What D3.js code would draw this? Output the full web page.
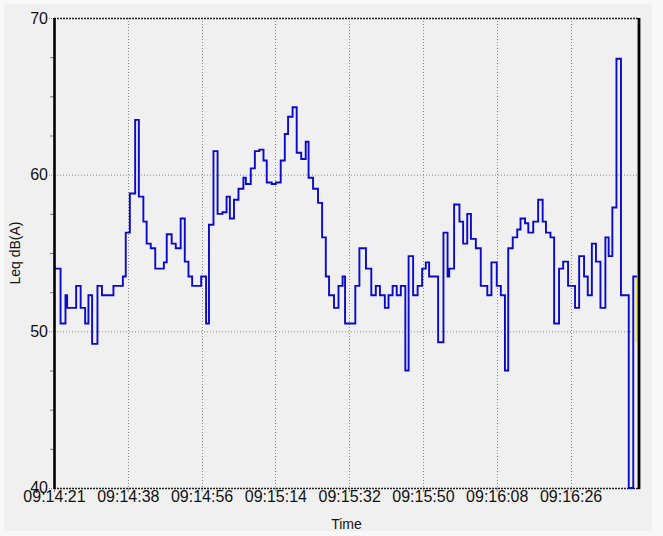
<!DOCTYPE html>
<html>
<head>
<meta charset="utf-8">
<script src="https://cdn.jsdelivr.net/npm/d3@7"></script>
<style>
  html, body { margin: 0; padding: 0; background: #f8f8f8; }
  svg { display: block; font-family: "Liberation Sans", Arial, sans-serif; }
</style>
</head>
<body>
<svg id="chart" width="663" height="536"></svg>
<script>
// Seconds after 09:14:21 at which each step begins
const times = [0, 1.6, 2.8, 3.2, 5.4, 6.5, 7.6, 8.4, 9.3, 10.6, 11.7, 14.5, 16.8, 17.5, 18.5, 19.8, 20.7, 21.8, 22.6, 23.6,
  24.7, 26.8, 27.5, 28.7, 29.7, 30.9, 31.9, 32.8, 33.7, 35.9, 37.1, 37.8, 38.9, 39.9, 41.1, 42.1, 42.9, 43.9, 45.0, 46.2,
  46.8, 48.0, 49.0, 50.1, 51.1, 51.9, 53.1, 54.1, 55.3, 56.3, 57.1, 58.2, 59.2, 60.3, 61.4, 62.1, 63.2, 64.4, 65.4, 66.3,
  67.1, 68.3, 69.4, 70.4, 71.0, 73.5, 74.5, 76.1, 77.4, 78.5, 79.5, 80.7, 81.6, 82.6, 83.6, 84.6, 85.7, 86.5, 87.6, 88.7,
  89.8, 90.7, 91.5, 93.7, 95.0, 96.0, 96.4, 97.6, 98.9, 99.8, 100.8, 101.7, 102.9, 104.1, 105.7, 106.7, 108.0, 109.0, 110.0, 110.8,
  111.9, 113.0, 113.8, 114.9, 115.7, 116.9, 118.1, 119.2, 120.0, 121.1, 122.0, 123.2, 124.2, 125.4, 127.1, 128.1, 129.3, 130.2, 131.2, 132.2,
  133.3, 134.5, 135.3, 136.2, 137.2, 138.3, 140.2, 141.3];
// Leq dB(A) value of each step
const values = [54.0, 50.5, 52.3, 51.5, 52.9, 51.5, 50.5, 52.3, 49.2, 52.9, 52.3, 52.9, 53.5, 56.3, 58.8, 63.5, 58.6, 57.0, 55.6, 55.3,
  54.0, 54.4, 56.2, 55.6, 55.3, 57.2, 54.45, 53.5, 52.9, 53.5, 50.5, 56.8, 61.5, 57.5, 57.6, 58.6, 57.2, 58.4, 59.1, 59.8,
  59.4, 60.4, 61.5, 61.6, 60.9, 59.5, 59.4, 59.5, 60.9, 62.6, 63.7, 64.3, 61.4, 61.0, 62.1, 59.8, 59.1, 58.2, 56.0, 53.5,
  52.3, 51.5, 52.9, 53.5, 50.5, 52.9, 55.3, 54.0, 52.3, 52.9, 52.3, 51.5, 52.3, 52.9, 52.3, 52.9, 47.5, 54.8, 52.3, 52.9,
  54.0, 54.4, 53.5, 49.3, 56.3, 53.5, 54.0, 58.1, 57.0, 55.6, 57.5, 55.9, 55.3, 52.9, 52.3, 54.4, 52.9, 52.3, 47.5, 55.3,
  56.0, 56.5, 57.2, 56.9, 56.3, 57.0, 58.4, 57.0, 56.3, 56.0, 50.5, 54.0, 54.45, 52.9, 51.5, 54.8, 53.5, 52.3, 55.6, 54.45,
  51.5, 56.0, 54.8, 57.9, 67.4, 52.3, 40.0, 53.5];
const endTime = 142.2;

const tickSeconds = [0, 18, 36, 54, 72, 90, 108, 126];
const tickLabels = ["09:14:21", "09:14:38", "09:14:56", "09:15:14", "09:15:32", "09:15:50", "09:16:08", "09:16:26"];
const yTicks = [40, 50, 60, 70];
const yMinorTicks = [42.5, 45, 47.5, 52.5, 55, 57.5, 62.5, 65, 67.5];
// highlighted (yellow) last-sample marker
const markerTimes = [141.8, 142.4];
const markerValues = [49.3, 53.5];

const svg = d3.select("#chart");
const L = 54, R = 639, T = 18, B = 488;

svg.append("rect").attr("x", 4).attr("y", 4).attr("width", 648).attr("height", 527).attr("fill", "#f0f0f0");

const x = d3.scaleLinear().domain([0, 142.7]).range([L, R]);
const y = d3.scaleLinear().domain([40, 70]).range([B, T]);

// gridlines
const grid = svg.append("g");
grid.selectAll("line.h").data([50, 60]).join("line")
  .attr("x1", L).attr("x2", R).attr("y1", d => y(d) + 0.5).attr("y2", d => y(d) + 0.5)
  .attr("stroke", "#8a8a8a").attr("stroke-width", 1).attr("stroke-dasharray", "1,2");
grid.selectAll("line.v").data(tickSeconds.slice(1)).join("line")
  .attr("x1", d => Math.round(x(d)) + 0.5).attr("x2", d => Math.round(x(d)) + 0.5).attr("y1", T).attr("y2", B)
  .attr("stroke", "#8a8a8a").attr("stroke-width", 1).attr("stroke-dasharray", "1,2");

// Y axis
const yAxis = svg.append("g").attr("transform", `translate(${L},0)`)
  .call(d3.axisLeft(y).tickValues(yTicks).tickSize(6).tickPadding(0).tickFormat(d3.format("d")));
yAxis.select(".domain").remove();
yAxis.selectAll(".tick line").attr("stroke", "#888").attr("stroke-dasharray", "1,1");
yAxis.selectAll(".tick text").attr("font-size", 16).attr("fill", "#111")
  .attr("font-family", "Liberation Sans, Arial, sans-serif");
yAxis.selectAll(".tick text").filter(d => d === 40).attr("dy", "0.26em");

const yMinor = svg.append("g").attr("transform", `translate(${L},0)`)
  .call(d3.axisLeft(y).tickValues(yMinorTicks).tickSize(4).tickFormat(""));
yMinor.select(".domain").remove();
yMinor.selectAll(".tick line").attr("stroke", "#777");

// X axis
const xAxis = svg.append("g").attr("transform", `translate(0,${B})`)
  .call(d3.axisBottom(x).tickValues(tickSeconds).tickSize(4).tickPadding(-1.5)
    .tickFormat((d, i) => tickLabels[i]));
xAxis.select(".domain").remove();
xAxis.selectAll(".tick line").attr("stroke", "#888");
xAxis.selectAll(".tick text").attr("font-size", 16).attr("fill", "#111")
  .attr("font-family", "Liberation Sans, Arial, sans-serif");

// frame: top and bottom dotted dark, left/right solid thick
svg.append("line").attr("x1", L).attr("x2", R).attr("y1", T + 0.5).attr("y2", T + 0.5)
  .attr("stroke", "#222").attr("stroke-width", 1.3).attr("stroke-dasharray", "2,1");
svg.append("line").attr("x1", L).attr("x2", R + 1).attr("y1", B + 0.5).attr("y2", B + 0.5)
  .attr("stroke", "#222").attr("stroke-width", 1.3).attr("stroke-dasharray", "2,1");

// yellow marker
svg.append("rect")
  .attr("x", x(markerTimes[0])).attr("width", x(markerTimes[1]) - x(markerTimes[0]))
  .attr("y", y(markerValues[1])).attr("height", y(markerValues[0]) - y(markerValues[1]))
  .attr("fill", "#f2e85a");

// data step line
const pts = times.map((t, i) => [t, values[i]]);
pts.push([endTime, values[values.length - 1]]);
const line = d3.line().x(d => x(d[0])).y(d => y(d[1])).curve(d3.curveStepAfter);
svg.append("path").datum(pts).attr("d", line)
  .attr("fill", "none").attr("stroke", "#0a0acc").attr("stroke-width", 1.9)
  .attr("stroke-linejoin", "miter");

svg.append("line").attr("x1", L + 0.5).attr("x2", L + 0.5).attr("y1", T).attr("y2", B + 1)
  .attr("stroke", "#000").attr("stroke-width", 2.6);
svg.append("line").attr("x1", R).attr("x2", R).attr("y1", T).attr("y2", B + 1)
  .attr("stroke", "#000").attr("stroke-width", 2.8);

// axis titles
svg.append("text").attr("x", (L + R) / 2).attr("y", 529).attr("text-anchor", "middle")
  .attr("font-size", 14).attr("fill", "#111").text("Time");
svg.append("text").attr("transform", `translate(20,${(T + B) / 2}) rotate(-90)`)
  .attr("text-anchor", "middle").attr("font-size", 14).attr("fill", "#111").text("Leq dB(A)");
</script>
</body>
</html>
